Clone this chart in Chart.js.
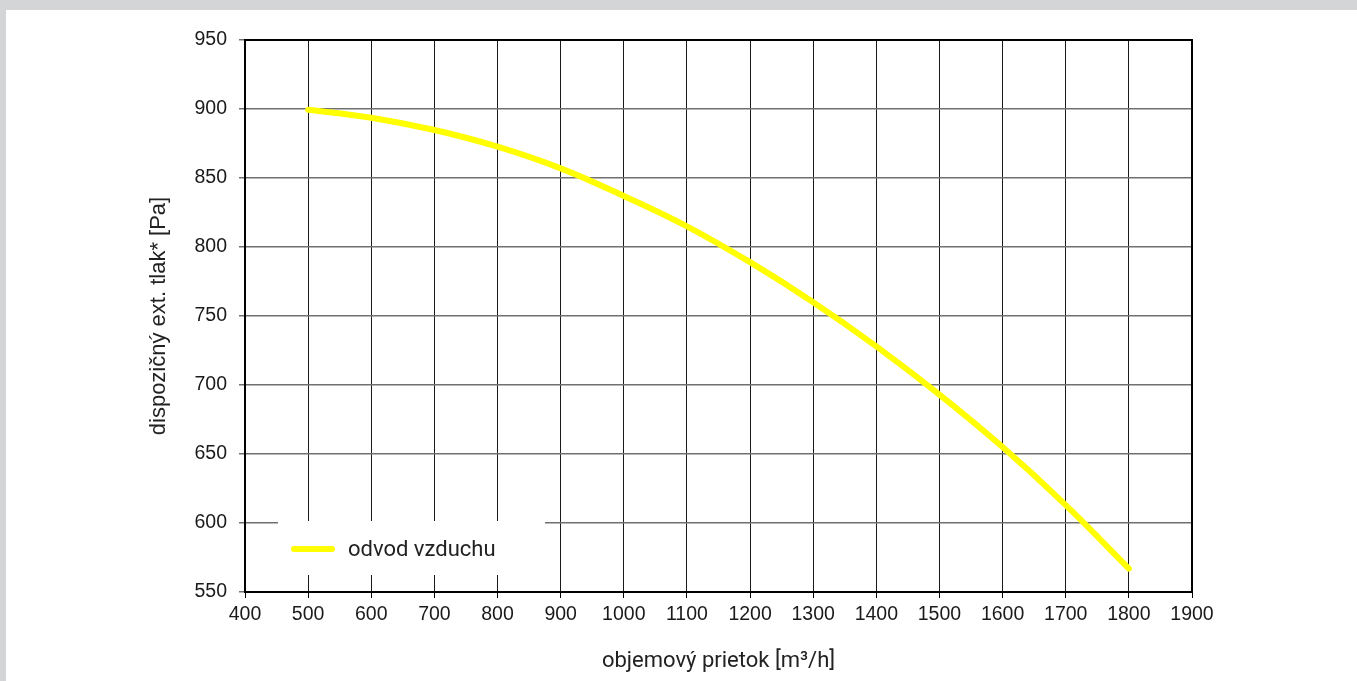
<!DOCTYPE html>
<html>
<head>
<meta charset="utf-8">
<script src="https://cdn.jsdelivr.net/npm/chart.js@4/dist/chart.umd.min.js"></script>
<style>
  html, body { margin: 0; padding: 0; }
  body { background: #d4d5d7; width: 1357px; height: 681px; overflow: hidden; position: relative; }
  .panel { position: absolute; left: 6px; top: 10px; width: 1351px; height: 671px; background: #fff; }
  canvas { display: block; }
</style>
</head>
<body>
<div class="panel"><canvas id="fanChart" width="1351" height="671"></canvas></div>
<script>
// Údaje z grafu
const prietok = [500, 600, 700, 800, 900, 1000, 1100, 1200, 1300, 1400, 1500, 1600, 1700, 1800];
const tlak = [899.5, 893.7, 884.8, 872.7, 857, 837, 815, 789, 760, 728, 693, 655, 613, 567];
const nazovSerie = "odvod vzduchu";
const nazovX = "objemový prietok [m³/h]";
const nazovY = "dispozičný ext. tlak* [Pa]";

// Legenda vo vnútri grafu + rámik okolo plochy
const ramikLegenda = {
  id: "ramikLegenda",
  afterDatasetsDraw(chart) {
    const ctx = chart.ctx;
    const a = chart.chartArea;
    const ds = chart.data.datasets[0];
    ctx.save();
    // biely box legendy
    ctx.fillStyle = "#fff";
    ctx.fillRect(a.left + 33, a.bottom - 71, 267, 54);
    // vzorka čiary
    ctx.strokeStyle = ds.borderColor;
    ctx.lineWidth = 6;
    ctx.lineCap = "round";
    ctx.beginPath();
    ctx.moveTo(a.left + 49, a.bottom - 43);
    ctx.lineTo(a.left + 87, a.bottom - 43);
    ctx.stroke();
    ctx.fillStyle = "#222";
    ctx.font = "22px Roboto";
    ctx.textBaseline = "middle";
    ctx.fillText(ds.label, a.left + 103, a.bottom - 42);
    // rámik
    ctx.strokeStyle = "#000";
    ctx.lineWidth = 2;
    ctx.lineCap = "butt";
    ctx.strokeRect(a.left, a.top, a.right - a.left, a.bottom - a.top);
    ctx.restore();
  },
};

const ctx = document.getElementById("fanChart").getContext("2d");
const fanChart = new Chart(ctx, {
  type: "line",
  data: {
    datasets: [
      {
        label: nazovSerie,
        data: prietok.map((x, i) => ({ x: x, y: tlak[i] })),
        borderColor: "#ffff00",
        borderWidth: 6,
        borderCapStyle: "round",
        pointRadius: 0,
        tension: 0.4,
        fill: false,
      },
    ],
  },
  options: {
    responsive: false,
    animation: false,
    layout: { padding: { top: 30, right: 165, left: 0, bottom: 0 } },
    plugins: {
      legend: { display: false },
      tooltip: { enabled: false },
    },
    scales: {
      x: {
        type: "linear",
        min: 400,
        max: 1900,
        afterFit: (s) => { s.height = 89; },
        ticks: {
          stepSize: 100,
          color: "#1a1a1a",
          padding: 5,
          maxRotation: 0,
          callback: (v) => String(v),
          font: { family: "'Liberation Sans', Arial", size: 19.5 },
        },
        grid: { color: "#1a1a1a", lineWidth: 1, tickLength: 6, tickColor: "#000" },
        border: { color: "#000", width: 2 },
        title: {
          display: true,
          text: nazovX,
          color: "#222",
          padding: { top: 0, bottom: 6 },
          font: { family: "Roboto", size: 22 },
        },
      },
      y: {
        min: 550,
        max: 950,
        afterFit: (s) => { s.width = 239; },
        ticks: {
          stepSize: 50,
          color: "#1a1a1a",
          padding: 12,
          callback: (v) => String(v),
          font: { family: "'Liberation Sans', Arial", size: 19.5 },
        },
        grid: { color: "#707070", lineWidth: 1.5, tickLength: 6, tickColor: "#707070" },
        border: { color: "#000", width: 2 },
        title: {
          display: true,
          text: nazovY,
          color: "#222",
          padding: { top: 140, bottom: 0 },
          font: { family: "'Liberation Sans', Arial", size: 22 },
        },
      },
    },
  },
  plugins: [ramikLegenda],
});
</script>
</body>
</html>
